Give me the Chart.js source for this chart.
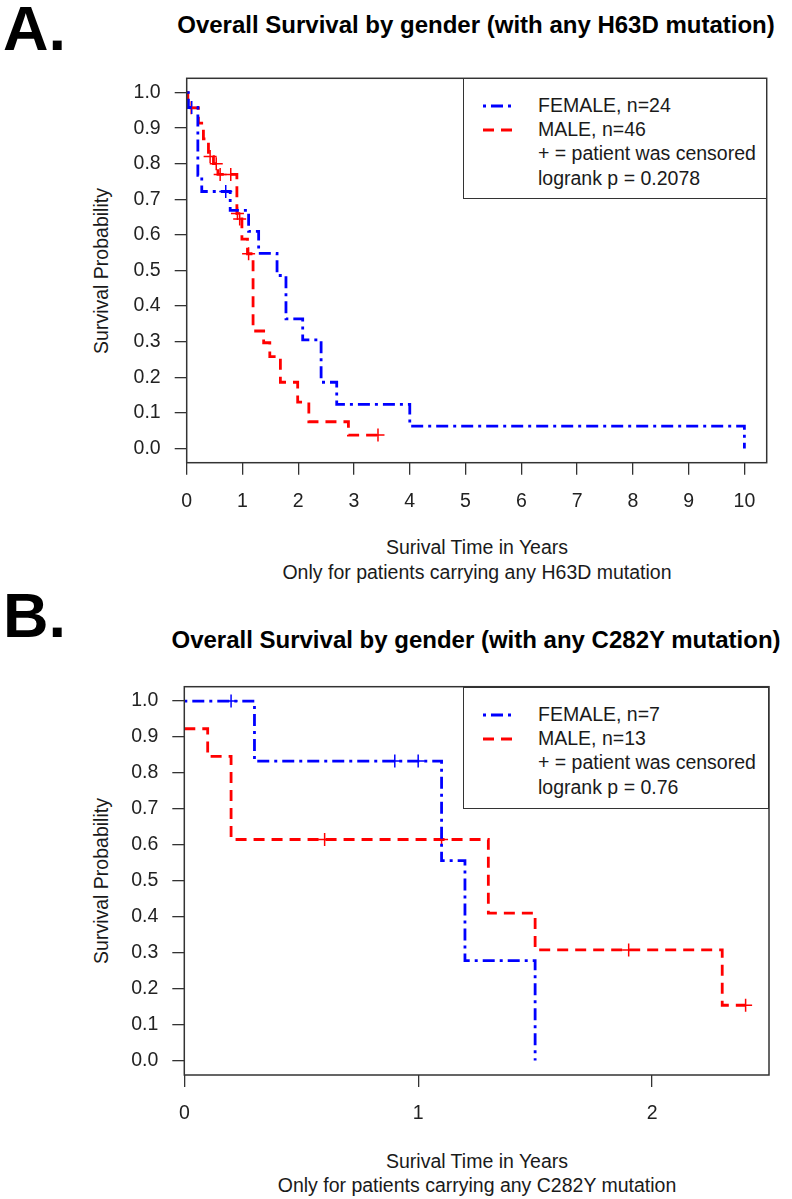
<!DOCTYPE html>
<html><head><meta charset="utf-8">
<script src="https://cdn.jsdelivr.net/npm/chart.js@4.4.1/dist/chart.umd.min.js"></script>
<style>
body{margin:0;background:#fff;width:792px;height:1199px;position:relative;overflow:hidden;font-family:"Liberation Sans",Arial,sans-serif;color:#1a1a1a}
.abs{position:absolute;white-space:nowrap;line-height:1}
.lbl{font-weight:bold;font-size:63px;color:#000}
.title{font-weight:bold;font-size:24px;color:#000;transform:translate(-50%,-50%)}
.axt{font-size:19.5px;transform:translate(-50%,-50%)}
.yt{font-size:19.5px;transform:translate(-50%,-50%) rotate(-90deg)}
.legend{position:absolute;border:1.5px solid #333;background:#fff;box-sizing:border-box}
.legend .row{position:absolute;white-space:nowrap;font-size:19.5px;line-height:1;transform:translateY(-50%)}
canvas{position:absolute;left:0}
</style>
</head><body>
<div class="abs lbl" style="left:3px;top:-3px">A.</div>
<div class="abs title" style="left:476px;top:25px">Overall Survival by gender (with any H63D mutation)</div>
<div class="abs yt" style="left:102px;top:271px">Survival Probability</div>
<div class="abs axt" style="left:477px;top:548px">Surival Time in Years</div>
<div class="abs axt" style="left:477px;top:573px">Only for patients carrying any H63D mutation</div>

<div class="abs lbl" style="left:3px;top:584px">B.</div>
<div class="abs title" style="left:476px;top:640px">Overall Survival by gender (with any C282Y mutation)</div>
<div class="abs yt" style="left:102px;top:881px">Survival Probability</div>
<div class="abs axt" style="left:477px;top:1162px">Surival Time in Years</div>
<div class="abs axt" style="left:477px;top:1186px">Only for patients carrying any C282Y mutation</div>

<canvas id="cA" width="792" height="600" style="top:0"></canvas>
<canvas id="cB" width="792" height="599" style="top:600px"></canvas>

<div id="legA" class="legend" style="left:463px;top:78px;width:304px;height:121px"></div>
<div id="legB" class="legend" style="left:463px;top:687px;width:306px;height:122px"></div>

<script>
// ---------- Panel A data (any H63D mutation) ----------
const femaleA_time = [0, 0.03, 0.20, 0.27, 0.78, 1.11, 1.29, 1.62, 1.78, 2.08, 2.41, 2.69, 4.0, 10.0];
const femaleA_surv = [1.0, 0.958, 0.767, 0.722, 0.669, 0.610, 0.548, 0.486, 0.364, 0.305, 0.186, 0.124, 0.063, 0.0];
const femaleA_censTime = [0.09, 0.70];
const femaleA_censSurv = [0.958, 0.722];
const maleA_time = [0, 0.02, 0.21, 0.30, 0.39, 0.48, 0.56, 0.90, 0.93, 0.99, 1.09, 1.19, 1.38, 1.49, 1.68, 1.99, 2.19, 2.90, 3.43];
const maleA_surv = [1.0, 0.957, 0.914, 0.870, 0.820, 0.800, 0.770, 0.660, 0.645, 0.588, 0.547, 0.330, 0.297, 0.258, 0.186, 0.130, 0.075, 0.0375, 0.0375];
const maleA_censTime = [0.08, 0.42, 0.53, 0.60, 0.79, 0.91, 0.95, 1.11, 3.43];
const maleA_censSurv = [0.957, 0.820, 0.800, 0.770, 0.770, 0.660, 0.645, 0.547, 0.0375];
const xTicksA = [0,1,2,3,4,5,6,7,8,9,10];
const xLabelsA = ["0","1","2","3","4","5","6","7","8","9","10"];
const legendA = ["FEMALE, n=24", "MALE, n=46", "+ = patient was censored", "logrank p = 0.2078"];

// ---------- Panel B data (any C282Y mutation) ----------
const femaleB_time = [0, 0.30, 1.10, 1.20, 1.50];
const femaleB_surv = [1.0, 0.833, 0.556, 0.278, 0.0];
const femaleB_censTime = [0.20, 0.90, 1.00];
const femaleB_censSurv = [1.0, 0.833, 0.833];
const maleB_time = [0, 0.10, 0.20, 1.30, 1.50, 2.30, 2.40];
const maleB_surv = [0.923, 0.846, 0.615, 0.410, 0.308, 0.154, 0.154];
const maleB_censTime = [0.60, 1.10, 1.90, 2.40];
const maleB_censSurv = [0.615, 0.615, 0.308, 0.154];
const xTicksB = [0,1,2];
const xLabelsB = ["0","1","2"];
const legendB = ["FEMALE, n=7", "MALE, n=13", "+ = patient was censored", "logrank p = 0.76"];

// ---------- shared ----------
const yTicks = [0,0.1,0.2,0.3,0.4,0.5,0.6,0.7,0.8,0.9,1.0];
const yLabels = ["0.0","0.1","0.2","0.3","0.4","0.5","0.6","0.7","0.8","0.9","1.0"];

const BLUE = '#0000ff', RED = '#ff0000', AXIS = '#333333';
const DASH_F = [3,5,12,5], DASH_M = [11,7];
const tickFont = {family:'"Liberation Sans", Arial, sans-serif', size:19.5};

const pts = (xs, ys) => xs.map((x,i) => ({x:x, y:ys[i]}));

const framePlugin = {
  id:'frame',
  afterDraw(chart){
    const {ctx, chartArea:a} = chart;
    ctx.save();
    ctx.strokeStyle = AXIS; ctx.lineWidth = 1.5;
    ctx.strokeRect(a.left, a.top, a.right - a.left, a.bottom - a.top);
    ctx.restore();
  }
};

function panel(id, p){
  const curve = (data, color, dash) => ({data, borderColor:color, backgroundColor:color, borderWidth:2.8,
    borderDash:dash, stepped:true, pointRadius:0, fill:false, tension:0});
  const cens = (data, color) => ({data, showLine:false, pointStyle:'cross', pointRadius:6.5,
    borderColor:color, pointBorderColor:color, borderWidth:1.5, pointBorderWidth:1.5});
  return new Chart(document.getElementById(id), {
    type:'line',
    data:{datasets:[
      curve(pts(p.fT,p.fS), BLUE, DASH_F),
      curve(pts(p.mT,p.mS), RED, DASH_M),
      cens(pts(p.fCT,p.fCS), BLUE),
      cens(pts(p.mCT,p.mCS), RED)
    ]},
    options:{
      responsive:false, animation:false, devicePixelRatio:1, events:[],
      layout:{padding:{left:0, top:p.top, right:p.right, bottom:0}},
      plugins:{legend:{display:false}, tooltip:{enabled:false}, title:{display:false}},
      scales:{
        x:{type:'linear', min:0, max:p.xMax,
          afterBuildTicks(s){ s.ticks = p.xTicks.map(v => ({value:v})); },
          afterFit(s){ s.height = p.xH; },
          ticks:{callback:(v,i) => p.xLabels[i], font:tickFont, color:'#222', padding:15, maxRotation:0, minRotation:0, autoSkip:false},
          grid:{drawOnChartArea:false, drawTicks:true, tickLength:12, color:AXIS, lineWidth:1.3},
          border:{display:false}
        },
        y:{type:'linear', min:-0.04, max:1.04,
          afterBuildTicks(s){ s.ticks = yTicks.map(v => ({value:v})); },
          afterFit(s){ s.width = p.yW; },
          ticks:{callback:(v,i) => yLabels[i], font:tickFont, color:'#222', padding:14, autoSkip:false},
          grid:{drawOnChartArea:false, drawTicks:true, tickLength:12, color:AXIS, lineWidth:1.3},
          border:{display:false}
        }
      }
    },
    plugins:[framePlugin]
  });
}

panel('cA', {fT:femaleA_time, fS:femaleA_surv, mT:maleA_time, mS:maleA_surv,
  fCT:femaleA_censTime, fCS:femaleA_censSurv, mCT:maleA_censTime, mCS:maleA_censSurv,
  xTicks:xTicksA, xLabels:xLabelsA, xMax:10.4, top:78.3, right:792-766.7, xH:600-462.7, yW:186.7});
panel('cB', {fT:femaleB_time, fS:femaleB_surv, mT:maleB_time, mS:maleB_surv,
  fCT:femaleB_censTime, fCS:femaleB_censSurv, mCT:maleB_censTime, mCS:maleB_censSurv,
  xTicks:xTicksB, xLabels:xLabelsB, xMax:2.5, top:686.7-600, right:792-769, xH:1199-1075, yW:184.3});

function buildLegend(id, texts){
  const box = document.getElementById(id);
  const rows = [26.5, 51, 75, 99.5];
  const samples = [[BLUE, DASH_F],[RED, DASH_M]];
  texts.forEach((t,i) => {
    const d = document.createElement('div');
    d.className = 'row';
    d.style.left = (537 - 463) + 'px';
    d.style.top = rows[i] + 'px';
    d.textContent = t;
    box.appendChild(d);
    if (i < 2){
      const svgNS = 'http://www.w3.org/2000/svg';
      const svg = document.createElementNS(svgNS, 'svg');
      svg.setAttribute('width','34'); svg.setAttribute('height','6');
      svg.style.position = 'absolute';
      svg.style.left = (482 - 463) + 'px';
      svg.style.top = (rows[i] - 3) + 'px';
      const ln = document.createElementNS(svgNS, 'line');
      ln.setAttribute('x1','0'); ln.setAttribute('x2','31');
      ln.setAttribute('y1','3'); ln.setAttribute('y2','3');
      ln.setAttribute('stroke', samples[i][0]);
      ln.setAttribute('stroke-width','2.8');
      ln.setAttribute('stroke-dasharray', samples[i][1].join(' '));
      svg.appendChild(ln);
      box.appendChild(svg);
    }
  });
}
buildLegend('legA', legendA);
buildLegend('legB', legendB);
</script>
</body></html>
